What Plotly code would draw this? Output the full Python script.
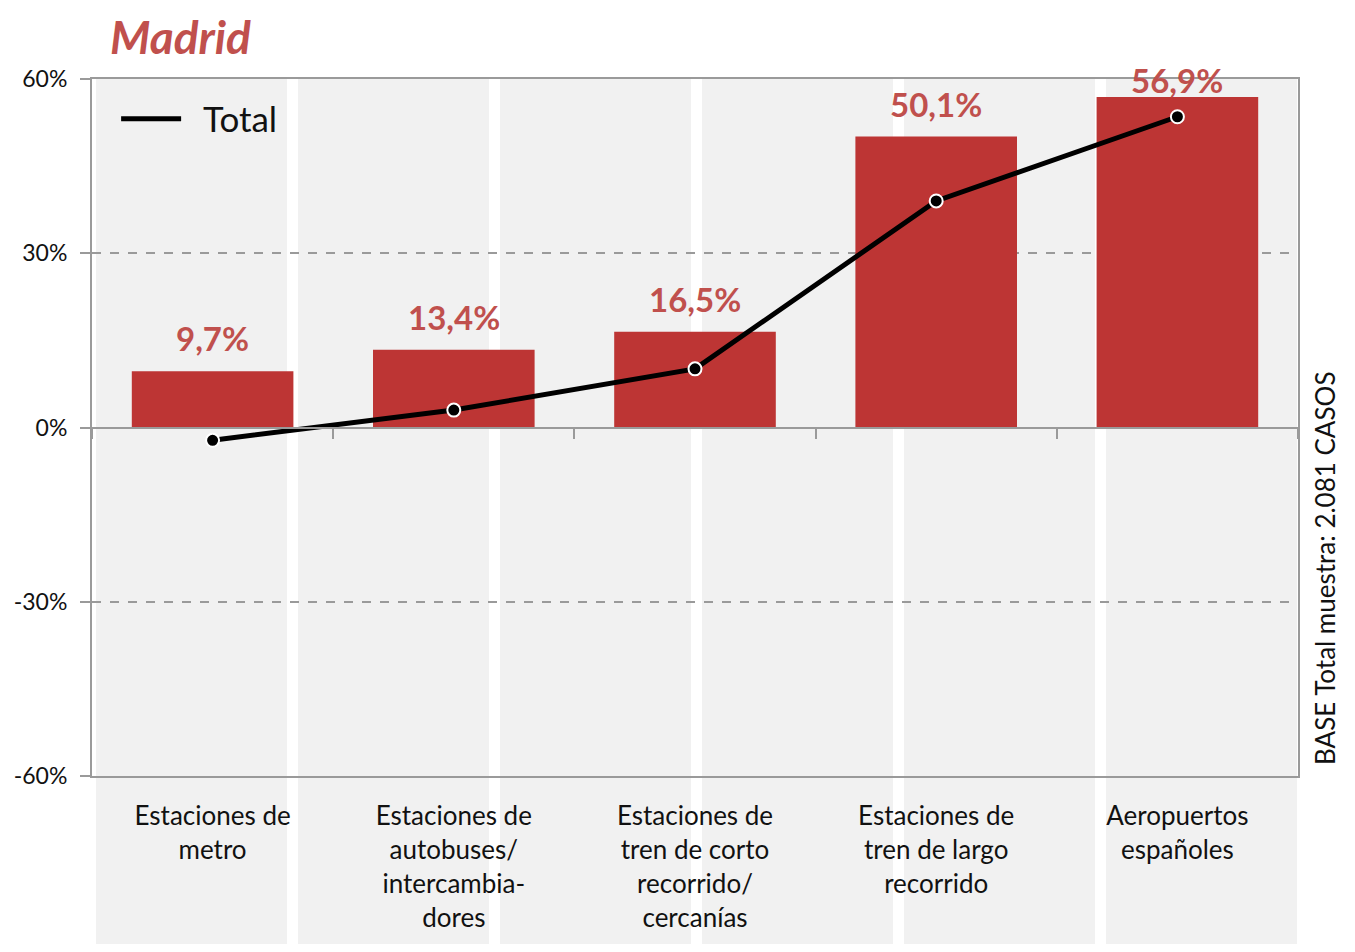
import plotly.graph_objects as go

categories = [
    "Estaciones de<br>metro",
    "Estaciones de<br>autobuses/<br>intercambia-<br>dores",
    "Estaciones de<br>tren de corto<br>recorrido/<br>cercanías",
    "Estaciones de<br>tren de largo<br>recorrido",
    "Aeropuertos<br>españoles",
]
madrid_values = [9.7, 13.4, 16.5, 50.1, 56.9]
total_values = [-2.2, 3.0, 10.1, 39.0, 53.5]
y_ticks = [-60, -30, 0, 30, 60]
y_labels = ["-60%", "-30%", "0%", "30%", "60%"]

RED = "#c0504d"
GRID = "#9a9a9a"
FONT = "Lato"

# page has an 8px body margin, so the figure is 16px smaller than the window
OFF = 8
W, H = 1355 - 2 * OFF, 952 - 2 * OFF
ML, MT = 92 - OFF, 79 - OFF
PW, PH = 1206, 697
MR, MB = W - ML - PW, H - MT - PH

fig = go.Figure()

fig.add_trace(go.Bar(
    x=categories,
    y=madrid_values,
    width=0.67,
    marker=dict(color="#bd3534", line_width=0),
    showlegend=False,
    hoverinfo="y",
))

fig.add_trace(go.Scatter(
    x=categories,
    y=total_values,
    mode="lines+markers",
    name="Total",
    showlegend=False,
    line=dict(color="black", width=5),
    marker=dict(size=13, color="black", line=dict(color="white", width=2)),
))

# legend entry shows the line only
fig.add_trace(go.Scatter(
    x=[None], y=[None], mode="lines", name="\u00a0\u00a0Total",
    line=dict(color="black", width=5),
))

# invisible trace on a second x axis, only to draw the boundary ticks on the 0 line
fig.add_trace(go.Scatter(
    x=categories, y=[None] * len(categories), xaxis="x2",
    showlegend=False, hoverinfo="skip",
))

# value labels over the bars (kept inside the plot top like the original)
px_per_unit = PH / 120
annotations = []
for cat, v in zip(categories, madrid_values):
    annotations.append(dict(
        x=cat, y=min(v + 33 / px_per_unit, 59.8), xref="x", yref="y",
        text=f"{v:.1f}%".replace(".", ","),
        showarrow=False, yanchor="middle",
        font=dict(family=FONT, size=33, color=RED, weight="bold"),
    ))

annotations.append(dict(
    x=(1325 - 92) / PW, y=(776 - 568) / PH, xref="paper", yref="paper",
    xanchor="center", yanchor="middle",
    text="BASE Total muestra: 2.081 CASOS", textangle=-90, showarrow=False,
    font=dict(family=FONT, size=26, color="#111"),
))

# light grey background stripes (slide backdrop)
shapes = []
x = 96
while x < 92 + PW:
    x1 = min(x + 191, 92 + PW)
    shapes.append(dict(
        type="rect", xref="paper", yref="paper", layer="below",
        x0=(x - 92) / PW, x1=(x1 - 92) / PW, y0=-0.3, y1=1,
        fillcolor="#f1f1f1", line_width=0,
    ))
    x += 202

fig.update_layout(
    width=W, height=H,
    margin=dict(l=ML, r=MR, t=MT, b=MB, autoexpand=False),
    paper_bgcolor="white",
    plot_bgcolor="rgba(0,0,0,0)",
    separators=",.",
    font=dict(family=FONT, color="#111"),
    title=dict(
        text="<b><i>Madrid</i></b>",
        x=(110 - OFF) / W, xanchor="left", y=1 - (38 - OFF) / H, yanchor="middle",
        font=dict(family=FONT, size=46, color=RED),
    ),
    legend=dict(
        x=0.02, y=0.985, xanchor="left", yanchor="top",
        bgcolor="rgba(0,0,0,0)", font=dict(family=FONT, size=35, color="#111"),
        itemwidth=60,
    ),
    shapes=shapes,
    annotations=annotations,
    yaxis=dict(
        range=[-60, 60], tickvals=y_ticks, ticktext=y_labels,
        showgrid=True, gridcolor=GRID, griddash="dash", gridwidth=1.5,
        zeroline=False,
        showline=True, linecolor=GRID, linewidth=2, mirror=True,
        ticks="outside", ticklen=10, tickcolor=GRID, tickwidth=2,
        ticklabelstandoff=8,
        tickfont=dict(family=FONT, size=23, color="#111"),
    ),
    xaxis=dict(
        showline=True, linecolor=GRID, linewidth=2, mirror=True,
        showgrid=False, ticks="", ticklabelstandoff=16,
        tickfont=dict(family=FONT, size=26, color="#111"),
    ),
    xaxis2=dict(
        matches="x", overlaying="x", anchor="free", position=0.5, side="bottom",
        showline=True, linecolor=GRID, linewidth=2,
        ticks="outside", tickson="boundaries", ticklen=10, tickcolor=GRID, tickwidth=2,
        showticklabels=False, showgrid=False,
    ),
)

fig.write_html("out.html")
